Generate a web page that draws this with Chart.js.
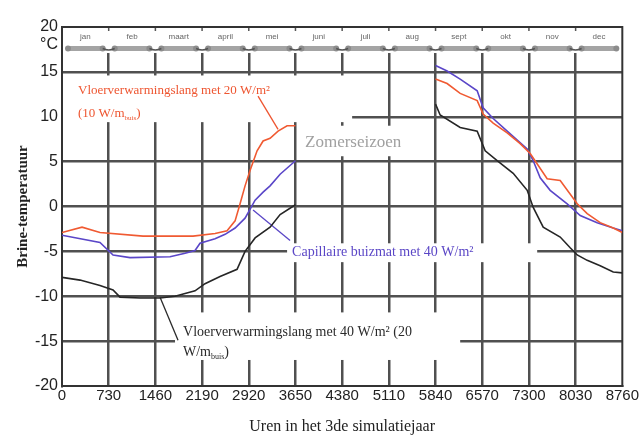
<!DOCTYPE html>
<html>
<head>
<meta charset="utf-8">
<script src="https://cdn.jsdelivr.net/npm/chart.js@4"></script>
<style>
  html, body { margin: 0; padding: 0; background: #fff; }
</style>
</head>
<body>
<canvas id="chart" width="640" height="436"></canvas>
<script>
// months shown in the band at the top of the plot
const months = ['jan', 'feb', 'maart', 'april', 'mei', 'juni', 'juli', 'aug', 'sept', 'okt', 'nov', 'dec'];
const hoursPerMonth = 730;
const yTickValues = [-20, -15, -10, -5, 0, 5, 10, 15, 18, 20];

// hours in the 3rd simulation year (null temp = gap during summer)
const orangeHours = [0, 313, 594, 1267, 2049, 2393, 2581, 2706, 2784, 2862, 2940, 3050, 3144, 3253, 3378, 3519, 3650,
  4745, 5840, 6021, 6225, 6491, 6584, 6741, 6960, 7163, 7320, 7585, 7789, 8055, 8211, 8414, 8618, 8760];
const orangeTemps = [-2.9, -2.3, -2.9, -3.3, -3.3, -3.0, -2.7, -1.6, 0.3, 2.3, 4.0, 6.2, 7.3, 7.6, 8.4, 9.0, 9.0,
  null, 14.2, 13.7, 12.6, 11.8, 10.3, 9.3, 8.2, 7.0, 5.9, 3.1, 2.9, 0.3, -0.8, -1.8, -2.4, -2.9];

const purpleHours = [0, 594, 798, 1063, 1689, 1924, 2080, 2158, 2393, 2550, 2706, 2862, 3019, 3144, 3253, 3410, 3650,
  4745, 5840, 6021, 6225, 6491, 6584, 6741, 6960, 7273, 7367, 7476, 7632, 7898, 8102, 8367, 8618, 8760];
const purpleTemps = [-3.2, -4.0, -5.4, -5.7, -5.6, -5.2, -4.9, -4.1, -3.6, -3.1, -2.4, -1.3, 0.7, 1.6, 2.3, 3.6, 5.1,
  null, 15.7, 15.1, 14.2, 12.9, 11.0, 9.8, 8.4, 6.4, 5.1, 3.2, 1.8, 0.3, -1.0, -1.8, -2.4, -2.7];

const blackHours = [0, 282, 594, 798, 907, 1220, 1533, 1767, 2080, 2236, 2471, 2737, 2862, 3019, 3253, 3410, 3650,
  4745, 5840, 5912, 6225, 6491, 6616, 6803, 7054, 7273, 7367, 7523, 7789, 7945, 8055, 8211, 8414, 8618, 8760];
const blackTemps = [-7.9, -8.2, -8.8, -9.3, -10.1, -10.2, -10.2, -10.0, -9.4, -8.6, -7.8, -7.0, -5.0, -3.5, -2.3, -0.9, 0.2,
  null, 11.4, 10.2, 8.8, 8.4, 6.2, 5.1, 3.7, 1.8, -0.1, -2.3, -3.4, -4.6, -5.4, -6.0, -6.6, -7.3, -7.4];

// text labels inside the plot, placed in data units (hours, °C)
const notes = [
  { color: '#ee5530', font: '13px "Liberation Serif"', x: 250, ys: [12.9, 10.3],
    lines: ['Vloerverwarmingslang met 20 W/m²', '(10 W/m_{buis})'],
    box: [0, 4536, 14.6, 9.4], leader: [3065, 12.3, 3378, 8.6] },
  { color: '#a0a0a0', font: '17px "Liberation Serif"', x: 3800, ys: [7.1],
    lines: ['Zomerseizoen'], box: [3722, 5599, 9.0, 5.6] },
  { color: '#5a46c6', font: '14px "Liberation Serif"', x: 3597, ys: [-5.1],
    lines: ['Capillaire buizmat met 40 W/m²'], box: [3519, 7429, -4.1, -6.2], leader: [2987, -0.4, 3566, -3.8] },
  { color: '#2a2a2a', font: '14px "Liberation Serif"', x: 1892, ys: [-14.0, -16.3],
    lines: ['Vloerverwarmingslang met 40 W/m² (20', 'W/m_{buis})'],
    box: [1767, 6225, -11.8, -17.1], leader: [1533, -10.1, 1814, -14.9] }
];

const toPoints = (hs, ts) => hs.map((h, i) => ({ x: h, y: ts[i] }));

const drawRich = (ctx, text, x, y, font) => {
  const parts = text.split(/_\{([^}]*)\}/);
  const size = parseFloat(font);
  parts.forEach((p, i) => {
    if (!p) return;
    if (i % 2 === 1) {
      ctx.font = font.replace(/^[\d.]+px/, Math.round(size * 0.55) + 'px');
      ctx.fillText(p, x, y + size * 0.3);
    } else {
      ctx.font = font;
      ctx.fillText(p, x, y);
    }
    x += ctx.measureText(p).width;
  });
};

const decor = {
  id: 'decor',
  beforeDatasetsDraw(chart) {
    const { ctx, chartArea: a, scales: { x, y } } = chart;
    ctx.save();

    // month band
    const bandBottom = y.getPixelForValue(17.1);
    ctx.fillStyle = '#fff';
    ctx.fillRect(a.left + 1, a.top, a.width - 2, bandBottom - a.top);
    const barY = y.getPixelForValue(17.6);
    const txtY = y.getPixelForValue(18.9);
    months.forEach((m, i) => {
      const x0 = x.getPixelForValue(i * hoursPerMonth);
      const x1 = x.getPixelForValue((i + 1) * hoursPerMonth);
      ctx.strokeStyle = '#a4a4a4';
      ctx.lineWidth = 5;
      ctx.beginPath();
      ctx.moveTo(x0 + 6, barY);
      ctx.lineTo(x1 - 6, barY);
      ctx.stroke();
      ctx.fillStyle = '#8c8c8c';
      [x0 + 6, x1 - 6].forEach(cx => {
        ctx.beginPath();
        ctx.arc(cx, barY, 3, 0, Math.PI * 2);
        ctx.fill();
      });
      if (i > 0) {
        ctx.strokeStyle = '#555';
        ctx.lineWidth = 1.5;
        ctx.beginPath();
        ctx.moveTo(x0 - 6, barY);
        ctx.quadraticCurveTo(x0, barY + 3, x0 + 6, barY);
        ctx.stroke();
        ctx.beginPath();
        ctx.moveTo(x0, a.top);
        ctx.lineTo(x0, a.top + 4);
        ctx.stroke();
      }
      ctx.fillStyle = '#666';
      ctx.font = '8px "Liberation Sans"';
      ctx.textAlign = 'center';
      ctx.textBaseline = 'middle';
      ctx.fillText(m, (x0 + x1) / 2, txtY);
    });

    // labels with white boxes over the grid
    ctx.textAlign = 'left';
    ctx.textBaseline = 'middle';
    notes.forEach(n => {
      const [bx0, bx1, by0, by1] = n.box;
      const px0 = x.getPixelForValue(bx0), px1 = x.getPixelForValue(bx1);
      const py0 = y.getPixelForValue(by0), py1 = y.getPixelForValue(by1);
      ctx.fillStyle = '#fff';
      ctx.fillRect(Math.max(px0, a.left + 1), py0, px1 - Math.max(px0, a.left + 1), py1 - py0);
    });
    notes.forEach(n => {
      ctx.fillStyle = n.color;
      n.lines.forEach((t, i) => drawRich(ctx, t, x.getPixelForValue(n.x), y.getPixelForValue(n.ys[i]), n.font));
      if (n.leader) {
        const [lx0, ly0, lx1, ly1] = n.leader;
        ctx.strokeStyle = n.color;
        ctx.lineWidth = 1.3;
        ctx.beginPath();
        ctx.moveTo(x.getPixelForValue(lx0), y.getPixelForValue(ly0));
        ctx.lineTo(x.getPixelForValue(lx1), y.getPixelForValue(ly1));
        ctx.stroke();
      }
    });

    // frame
    ctx.strokeStyle = '#333';
    ctx.lineWidth = 2;
    ctx.strokeRect(a.left, a.top, a.width, a.height);
    ctx.restore();
  }
};

const gridColor = '#505050';

new Chart(document.getElementById('chart'), {
  type: 'line',
  data: {
    datasets: [
      { label: 'Vloerverwarmingslang 20 W/m²', data: toPoints(orangeHours, orangeTemps), borderColor: '#f05a32' },
      { label: 'Capillaire buizmat 40 W/m²', data: toPoints(purpleHours, purpleTemps), borderColor: '#5a46c8' },
      { label: 'Vloerverwarmingslang 40 W/m²', data: toPoints(blackHours, blackTemps), borderColor: '#262626' }
    ].map(d => ({ ...d, borderWidth: 1.6, pointRadius: 0, tension: 0, spanGaps: false, fill: false }))
  },
  options: {
    responsive: false,
    animation: false,
    devicePixelRatio: 1,
    layout: { padding: { top: 27, right: 17, left: 0, bottom: 0 } },
    plugins: { legend: { display: false }, tooltip: { enabled: false } },
    scales: {
      x: {
        type: 'linear',
        min: 0,
        max: 8760,
        afterFit: s => { s.height = 50; },
        ticks: {
          stepSize: hoursPerMonth,
          autoSkip: false,
          maxRotation: 0,
          padding: 1,
          color: '#222',
          font: { family: 'Liberation Sans', size: 15 },
          callback: v => String(v)
        },
        grid: {
          color: c => (c.tick && c.tick.value > 0 && c.tick.value < 8760) ? gridColor : 'transparent',
          lineWidth: 2.5,
          drawTicks: false
        },
        border: { display: true, color: '#333', width: 2 },
        title: {
          display: true,
          text: 'Uren in het 3de simulatiejaar',
          color: '#222',
          font: { family: 'Liberation Serif', size: 16 },
          padding: { top: 0, bottom: 0 }
        }
      },
      y: {
        type: 'linear',
        min: -20,
        max: 20,
        afterFit: s => { s.width = 62; },
        afterBuildTicks: s => { s.ticks = yTickValues.map(v => ({ value: v })); },
        ticks: {
          autoSkip: false,
          padding: 4,
          color: '#222',
          font: { family: 'Liberation Sans', size: 16 },
          callback: v => v === 18 ? '°C' : String(v)
        },
        grid: {
          color: c => (c.tick && Math.abs(c.tick.value) <= 15) ? gridColor : 'transparent',
          lineWidth: 2.5,
          drawTicks: false
        },
        border: { display: true, color: '#333', width: 2 },
        title: {
          display: true,
          text: 'Brine-temperatuur',
          color: '#222',
          font: { family: 'Liberation Serif', size: 15, weight: 'bold' },
          padding: { top: 14, bottom: 0 }
        }
      }
    }
  },
  plugins: [decor]
});
</script>
</body>
</html>
